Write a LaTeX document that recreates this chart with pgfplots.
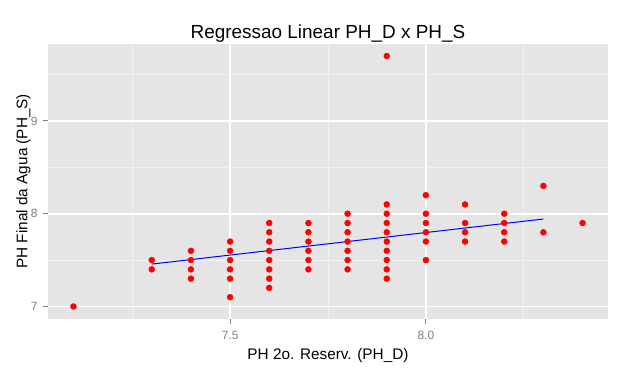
\documentclass[border=0pt]{standalone}
\usepackage{pgfplots}
\pgfplotsset{compat=1.18}
\usepackage{fontspec}
\setmainfont{Liberation Sans}
\definecolor{panelbg}{HTML}{E5E5E5}
\definecolor{minorgrid}{HTML}{F2F2F2}
\definecolor{tickgray}{HTML}{7F7F7F}
\begin{document}
\begin{tikzpicture}
\path[use as bounding box] (0,0) rectangle (471pt,279.75pt);
\begin{axis}[
  at={(36pt,40.5pt)}, anchor=south west,
  scale only axis, width=420pt, height=206.6pt,
  xmin=7.035, xmax=8.465, ymin=6.865, ymax=9.835,
  axis background/.style={fill=panelbg},
  axis line style={draw=none},
  xtick={7.5,8.0}, xticklabels={7.5,8.0},
  ytick={7,8,9}, yticklabels={7,8,9},
  minor xtick={7.25,7.75,8.25},
  minor ytick={7.5,8.5,9.5},
  grid=both,
  major grid style={white, line width=1.3pt},
  minor grid style={minorgrid, line width=0.6pt},
  tick align=outside,
  xtick pos=bottom, ytick pos=left,
  major tick length=3.75pt, minor tick length=0pt,
  tick style={tickgray, line width=0.75pt},
  ticklabel style={font=\fontsize{9}{10}\selectfont, text=tickgray},
  xticklabel style={yshift=-2pt},
  yticklabel style={xshift=-0.5pt},
  /pgf/number format/assume math mode=true,
  every axis title shift=0pt,
  title={Regressao Linear PH\_D x PH\_S},
  title style={at={(axis description cs:0.5,1.0194)}, anchor=base, font=\fontsize{14.2}{16}\selectfont},
  xlabel={PH 2o. Reserv. (PH\_D)},
  xlabel style={at={(axis description cs:0.5,-0.1488)}, anchor=base, font=\fontsize{11.5}{13}\selectfont},
  ylabel={PH Final da Agua (PH\_S)},
  ylabel style={at={(axis description cs:-0.0369,0.5)}, anchor=base, rotate=0, font=\fontsize{11.5}{13}\selectfont},
]
\addplot[only marks, mark=*, mark size=2.2pt, color=red] coordinates {
(7.1,7.0)
(7.3,7.5) (7.3,7.4)
(7.4,7.6) (7.4,7.5) (7.4,7.4) (7.4,7.3)
(7.5,7.7) (7.5,7.6) (7.5,7.5) (7.5,7.4) (7.5,7.3) (7.5,7.1)
(7.6,7.9) (7.6,7.8) (7.6,7.7) (7.6,7.6) (7.6,7.5) (7.6,7.4) (7.6,7.3) (7.6,7.2)
(7.7,7.9) (7.7,7.8) (7.7,7.7) (7.7,7.6) (7.7,7.5) (7.7,7.4)
(7.8,8.0) (7.8,7.9) (7.8,7.8) (7.8,7.7) (7.8,7.6) (7.8,7.5) (7.8,7.4)
(7.9,9.7) (7.9,8.1) (7.9,8.0) (7.9,7.9) (7.9,7.8) (7.9,7.7) (7.9,7.6) (7.9,7.5) (7.9,7.4) (7.9,7.3)
(8.0,8.2) (8.0,8.0) (8.0,7.9) (8.0,7.8) (8.0,7.7) (8.0,7.5)
(8.1,8.1) (8.1,7.9) (8.1,7.8) (8.1,7.7)
(8.2,8.0) (8.2,7.9) (8.2,7.8) (8.2,7.7)
(8.3,8.3) (8.3,7.8)
(8.4,7.9)
};
\addplot[blue, line width=0.75pt] coordinates {(7.3,7.457) (8.3,7.943)};
\end{axis}
\end{tikzpicture}
\end{document}
